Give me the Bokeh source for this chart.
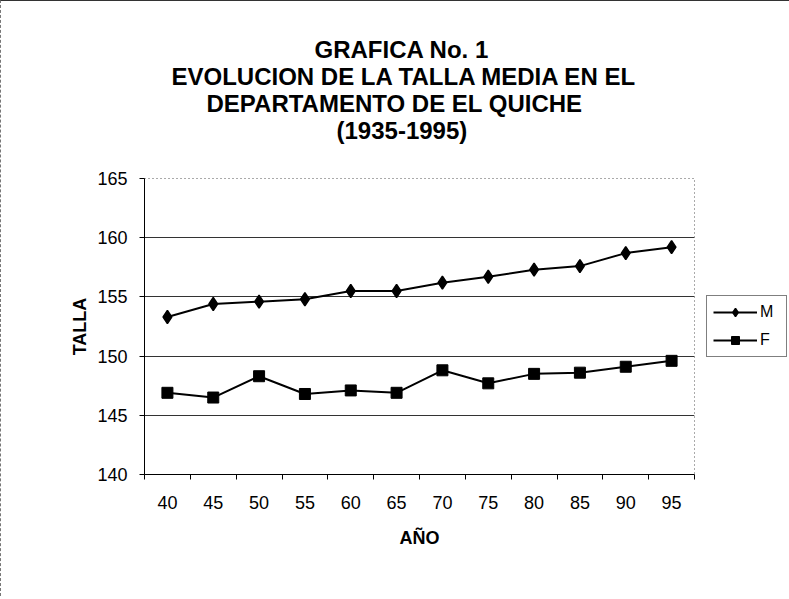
from bokeh.plotting import figure
from bokeh.models import (FixedTicker, Legend, LegendItem, Title, ColumnDataSource)
from bokeh.embed import file_html
from bokeh.resources import INLINE

# ---- data ----
years = [40, 45, 50, 55, 60, 65, 70, 75, 80, 85, 90, 95]
talla_m = [153.3, 154.4, 154.6, 154.8, 155.5, 155.5, 156.2, 156.7, 157.3, 157.6, 158.7, 159.2]
talla_f = [146.9, 146.5, 148.3, 146.8, 147.1, 146.9, 148.8, 147.7, 148.5, 148.6, 149.1, 149.6]
y_ticks = [140, 145, 150, 155, 160, 165]
title_lines = ["GRAFICA No. 1",
               "EVOLUCION DE LA TALLA MEDIA EN EL",
               "DEPARTAMENTO DE EL QUICHE",
               "(1935-1995)"]
# left offsets (px from the frame's left edge) that centre each title line near x=401
title_offsets = [170, 27, 62, 192]

FONT = "Liberation Sans"

p = figure(frame_width=550, frame_height=296, output_backend="svg",
           toolbar_location=None, title=None,
           x_range=(years[0] - 2.5, years[-1] + 2.5), y_range=(y_ticks[0], y_ticks[-1]),
           min_border_left=143, min_border_top=177, min_border_right=93,
           min_border_bottom=122)
p.styles = {"border-top": "1px solid #333333", "border-left": "1px dashed #777777"}
p.background_fill_color = "white"
p.border_fill_color = "white"
p.outline_line_color = "#555555"
p.outline_line_dash = "1 3"
p.outline_line_width = 1

# grid
p.xgrid.visible = False
p.ygrid.ticker = FixedTicker(ticks=y_ticks[1:-1])
p.ygrid.grid_line_color = "#333333"
p.ygrid.grid_line_width = 1

# x axis
minor = [y - 2.5 for y in years] + [years[-1] + 2.5]
p.xaxis.ticker = FixedTicker(ticks=years, minor_ticks=minor)
p.xaxis.major_tick_out = 0
p.xaxis.major_tick_in = 0
p.xaxis.minor_tick_out = 5
p.xaxis.minor_tick_in = 0
p.xaxis.minor_tick_line_color = "black"
p.xaxis.axis_line_color = "black"
p.xaxis.major_label_text_font = FONT
p.xaxis.major_label_text_font_size = "18px"
p.xaxis.major_label_text_color = "black"
p.xaxis.major_label_standoff = 16
p.xaxis.axis_label = "AÑO"
p.xaxis.axis_label_text_font = FONT
p.xaxis.axis_label_text_font_size = "18px"
p.xaxis.axis_label_text_font_style = "bold"
p.xaxis.axis_label_text_color = "black"
p.xaxis.axis_label_standoff = 16

# y axis
p.yaxis.ticker = FixedTicker(ticks=y_ticks)
p.yaxis.major_tick_out = 5
p.yaxis.major_tick_in = 0
p.yaxis.minor_tick_out = 0
p.yaxis.minor_tick_in = 0
p.yaxis.axis_line_color = "black"
p.yaxis.major_tick_line_color = "black"
p.yaxis.major_label_text_font = FONT
p.yaxis.major_label_text_font_size = "18px"
p.yaxis.major_label_text_color = "black"
p.yaxis.major_label_standoff = 12
p.yaxis.axis_label = "TALLA"
p.yaxis.axis_label_text_font = FONT
p.yaxis.axis_label_text_font_size = "18px"
p.yaxis.axis_label_text_font_style = "bold"
p.yaxis.axis_label_text_color = "black"
p.yaxis.axis_label_standoff = 4

src = ColumnDataSource(dict(x=years, m=talla_m, f=talla_f))
lm = p.line("x", "m", source=src, line_color="black", line_width=2)
mm = p.scatter("x", "m", source=src, marker="diamond", size=13,
               fill_color="black", line_color="black", line_width=1.5)
lf = p.line("x", "f", source=src, line_color="black", line_width=2)
mf = p.scatter("x", "f", source=src, marker="square", size=11,
               fill_color="black", line_color="black")

legend = Legend(items=[LegendItem(label="M", renderers=[lm, mm]),
                       LegendItem(label="F", renderers=[lf, mf])],
                location="center_left", orientation="vertical")
legend.border_line_color = "black"
legend.border_line_width = 1
legend.background_fill_color = "white"
legend.label_text_font = FONT
legend.label_text_font_size = "16px"
legend.label_text_color = "black"
legend.glyph_width = 44
legend.glyph_height = 20
legend.label_standoff = 3
legend.spacing = 8
legend.padding = 6
legend.margin = 12
p.add_layout(legend, "right")

# spacer between the frame and the title block, then the title lines
# (the first one added sits closest to the frame)
p.add_layout(Title(text=" ", text_font=FONT, text_font_size="22px", standoff=9), "above")
for txt, off in zip(reversed(title_lines), reversed(title_offsets)):
    t = Title(text=txt, align="left", offset=off, text_font=FONT, text_font_size="24px",
              text_font_style="bold", text_color="black", standoff=-2)
    p.add_layout(t, "above")

open("out.html", "w").write(file_html(p, INLINE))
